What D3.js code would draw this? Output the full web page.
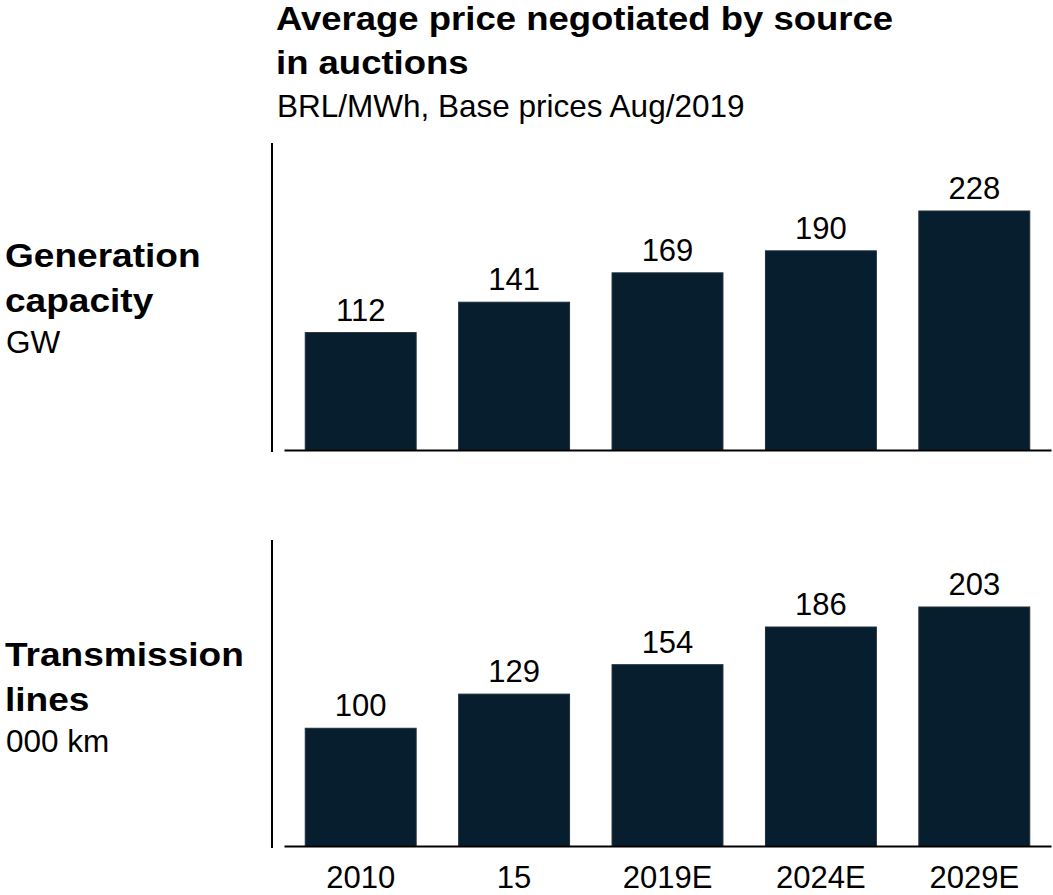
<!DOCTYPE html>
<html>
<head>
<meta charset="utf-8">
<script src="https://cdn.jsdelivr.net/npm/d3@7"></script>
<style>
  html, body { margin: 0; padding: 0; background: #fff; }
  svg { display: block; font-family: Arial, "Liberation Sans", sans-serif; }
</style>
</head>
<body>
<svg id="chart" width="1053" height="895"></svg>
<script>
const categories = ["2010", "15", "2019E", "2024E", "2029E"];
const generationValues = [112, 141, 169, 190, 228];
const transmissionValues = [100, 129, 154, 186, 203];

const titleLines = ["Average price negotiated by source", "in auctions"];
const subtitle = "BRL/MWh, Base prices Aug/2019";
const panelLabels = [
  { bold: ["Generation", "capacity"], unit: "GW" },
  { bold: ["Transmission", "lines"], unit: "000 km" }
];

const svg = d3.select("#chart");
const barColor = "#071e2e";
const boldScaleX = 1.09;

function boldText(g, str, x, y, size) {
  g.append("text")
    .attr("transform", `translate(${x},${y}) scale(${boldScaleX},1)`)
    .attr("font-size", size)
    .attr("font-weight", "bold")
    .attr("fill", "#000")
    .text(str);
}

// Title
boldText(svg, titleLines[0], 276, 30, 33.5);
boldText(svg, titleLines[1], 276, 74, 33.5);
svg.append("text")
  .attr("x", 277).attr("y", 117)
  .attr("font-size", 31.5)
  .attr("fill", "#000")
  .text(subtitle);

const x = d3.scaleBand()
  .domain(categories)
  .range([284, 1051])
  .paddingInner(0.277)
  .paddingOuter(0.1385);

const panels = [
  { values: generationValues, baseline: 450, axisTop: 143, labelY: 267, label: panelLabels[0], showTicks: false },
  { values: transmissionValues, baseline: 846, axisTop: 540, labelY: 666, label: panelLabels[1], showTicks: true }
];

const barMaxHeight = 239;

panels.forEach(p => {
  const y = d3.scaleLinear()
    .domain([0, d3.max(p.values)])
    .range([p.baseline, p.baseline - barMaxHeight]);

  const g = svg.append("g");

  // vertical axis line
  g.append("line")
    .attr("x1", 272).attr("x2", 272)
    .attr("y1", p.axisTop).attr("y2", p.baseline + 2)
    .attr("stroke", "#000").attr("stroke-width", 2);

  // bars
  g.selectAll("rect.bar")
    .data(p.values)
    .join("rect")
    .attr("class", "bar")
    .attr("x", (d, i) => x(categories[i]))
    .attr("width", x.bandwidth())
    .attr("y", d => y(d))
    .attr("height", d => y(0) - y(d))
    .attr("fill", barColor)
    .attr("stroke", "#1f2f3a")
    .attr("stroke-width", 1);

  // value labels
  g.selectAll("text.val")
    .data(p.values)
    .join("text")
    .attr("class", "val")
    .attr("x", (d, i) => x(categories[i]) + x.bandwidth() / 2)
    .attr("y", d => y(d) - 12)
    .attr("text-anchor", "middle")
    .attr("font-size", 31)
    .attr("fill", "#000")
    .text(d => d);

  // baseline axis
  const axis = d3.axisBottom(x)
    .tickSize(0)
    .tickSizeOuter(0)
    .tickPadding(20)
    .tickFormat(p.showTicks ? (d => d) : () => "");
  const ax = g.append("g")
    .attr("transform", `translate(0,${p.baseline})`)
    .call(axis);
  ax.select(".domain").attr("stroke", "#000").attr("stroke-width", 2);
  ax.selectAll(".tick text")
    .attr("font-size", 31)
    .attr("font-family", "Arial, 'Liberation Sans', sans-serif")
    .attr("fill", "#000")
    .attr("dy", "0.71em");

  // side labels
  boldText(svg, p.label.bold[0], 5, p.labelY, 34);
  boldText(svg, p.label.bold[1], 5, p.labelY + 45, 34);
  svg.append("text")
    .attr("x", 6).attr("y", p.labelY + 86)
    .attr("font-size", 31.5)
    .attr("fill", "#000")
    .text(p.label.unit);
});
</script>
</body>
</html>
